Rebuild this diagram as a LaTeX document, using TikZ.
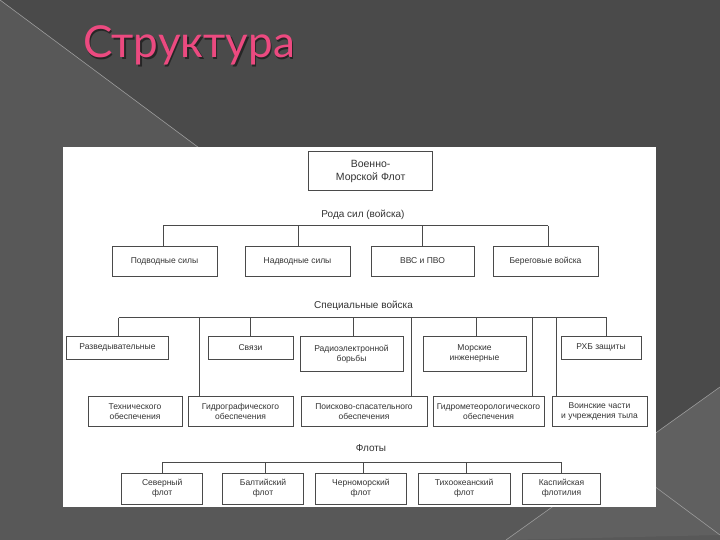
\documentclass[tikz,border=0pt]{standalone}
\usepackage{fontspec}
\setmainfont{Liberation Sans}
\newfontfamily\titlefont{Lato}
\definecolor{bgdark}{HTML}{4A4A4A}
\definecolor{bglight}{HTML}{585858}
\definecolor{bgmid}{HTML}{606060}
\definecolor{titlepink}{HTML}{EC4A80}
\definecolor{boxline}{HTML}{4A4A4A}
\definecolor{txt}{HTML}{333333}
\tikzset{
  box/.style={draw=boxline, line width=1pt, fill=white, inner sep=0.5pt, align=center,
    text=txt, font=\fontsize{8.5}{10}\selectfont},
  heading/.style={text=txt, font=\fontsize{10}{12}\selectfont, inner sep=0pt},
  wire/.style={draw=boxline, line width=1pt},
}
\newcommand{\bx}[7]{% name, x1, y1, x2, y2, text, extra
  \node[box, minimum width=#4pt-#2pt, minimum height=#5pt-#3pt, #7] (#1) at ({(#2+#4)/2},{(#3+#5)/2}) {#6};}
\begin{document}
\begin{tikzpicture}[x=1pt,y=-1pt]
\useasboundingbox (0,0) rectangle (720,540);
% background
\fill[bgdark] (0,0) rectangle (720,540);
\fill[bglight] (0,0) -- (720,535) -- (720,540) -- (0,540) -- cycle;
\fill[bgmid] (506,540) -- (720,387) -- (720,535) -- cycle;
\draw[white!45!bgdark, line width=0.6pt] (0,0) -- (720,535);
\draw[white!45!bgdark, line width=0.6pt] (506,540) -- (720,387);
% title
\node[anchor=base west, inner sep=0pt, text=black!85, font=\titlefont\fontsize{44}{44}\selectfont] (titleshadow) at (84.5,59.5) {Структура};
\node[anchor=base west, inner sep=0pt, text=titlepink, font=\titlefont\fontsize{44}{44}\selectfont] (title) at (83,58) {Структура};
% panel
\fill[white] (63.3,146.7) rectangle (655.7,507.3);
% top
\bx{vmf}{308.5}{151.7}{432.7}{191}{Военно-\\Морской Флот}{font=\fontsize{10.5}{12.5}\selectfont}
\node[heading] (h1) at (363,214.5) {Рода сил (войска)};
% row 1
\bx{pod}{112}{246}{217}{276}{Подводные силы}{}
\bx{nad}{245}{246}{350}{276}{Надводные силы}{}
\bx{vvs}{371}{246}{474}{276}{ВВС и ПВО}{}
\bx{ber}{493}{246}{598}{276}{Береговые войска}{}
\coordinate (b1l) at (163.3,226);
\coordinate (b1a) at (298.3,226);
\coordinate (b1b) at (422.7,226);
\coordinate (b1r) at (548.3,226);
\draw[wire] (b1l) -- (b1r);
\draw[wire] (b1l) -- (b1l |- pod.north);
\draw[wire] (b1a) -- (b1a |- nad.north);
\draw[wire] (b1b) -- (b1b |- vvs.north);
\draw[wire] (b1r) -- (b1r |- ber.north);
% special troops
\node[heading] (h2) at (363.5,306) {Специальные войска};
\bx{razv}{66.7}{336.7}{168.3}{359}{Разведывательные}{}
\bx{svyaz}{208}{336.7}{293}{359}{Связи}{}
\bx{rad}{300}{336.7}{403}{371.7}{Радиоэлектронной\\борьбы}{}
\bx{mor}{423}{336.7}{526}{371}{Морские\\инженерные}{}
\bx{rhb}{561}{336.7}{641}{359}{РХБ защиты}{}
\bx{tech}{88}{396.5}{182}{426.5}{Технического\\обеспечения}{}
\bx{gidr}{188}{396.5}{293}{426.5}{Гидрографического\\обеспечения}{}
\bx{poisk}{301}{396.5}{427}{426.5}{Поисково-спасательного\\обеспечения}{}
\bx{gmet}{433}{396.5}{544}{426.5}{Гидрометеорологического\\обеспечения}{}
\bx{voin}{552}{396.5}{647}{426.5}{Воинские части\\и учреждения тыла}{}
\coordinate (b2l) at (118.7,317.7);
\coordinate (b2a) at (199.3,317.7);
\coordinate (b2b) at (250,317.7);
\coordinate (b2c) at (353,317.7);
\coordinate (b2d) at (411.7,317.7);
\coordinate (b2e) at (476.7,317.7);
\coordinate (b2f) at (532.7,317.7);
\coordinate (b2g) at (556.7,317.7);
\coordinate (b2r) at (606.7,317.7);
\draw[wire] (b2l) -- (b2r);
\draw[wire] (b2l) -- (b2l |- razv.north);
\draw[wire] (b2a) -- (b2a |- gidr.north);
\draw[wire] (b2b) -- (b2b |- svyaz.north);
\draw[wire] (b2c) -- (b2c |- rad.north);
\draw[wire] (b2d) -- (b2d |- poisk.north);
\draw[wire] (b2e) -- (b2e |- mor.north);
\draw[wire] (b2f) -- (b2f |- gmet.north);
\draw[wire] (b2g) -- (b2g |- voin.north);
\draw[wire] (b2r) -- (b2r |- rhb.north);
% fleets
\node[heading] (h3) at (371,448) {Флоты};
\bx{sev}{121.7}{473}{202.7}{504}{Северный\\флот}{}
\bx{balt}{222.7}{473}{303.3}{504}{Балтийский\\флот}{}
\bx{cher}{315}{473}{406.7}{504}{Черноморский\\флот}{}
\bx{tih}{418.3}{473}{510}{504}{Тихоокеанский\\флот}{}
\bx{kasp}{522.3}{473}{600.7}{504}{Каспийская\\флотилия}{}
\coordinate (b3l) at (162.7,462.3);
\coordinate (b3a) at (265,462.3);
\coordinate (b3b) at (363.3,462.3);
\coordinate (b3c) at (466,462.3);
\coordinate (b3r) at (561.7,462.3);
\draw[wire] (b3l) -- (b3r);
\draw[wire] (b3l) -- (b3l |- sev.north);
\draw[wire] (b3a) -- (b3a |- balt.north);
\draw[wire] (b3b) -- (b3b |- cher.north);
\draw[wire] (b3c) -- (b3c |- tih.north);
\draw[wire] (b3r) -- (b3r |- kasp.north);
\end{tikzpicture}
\end{document}
